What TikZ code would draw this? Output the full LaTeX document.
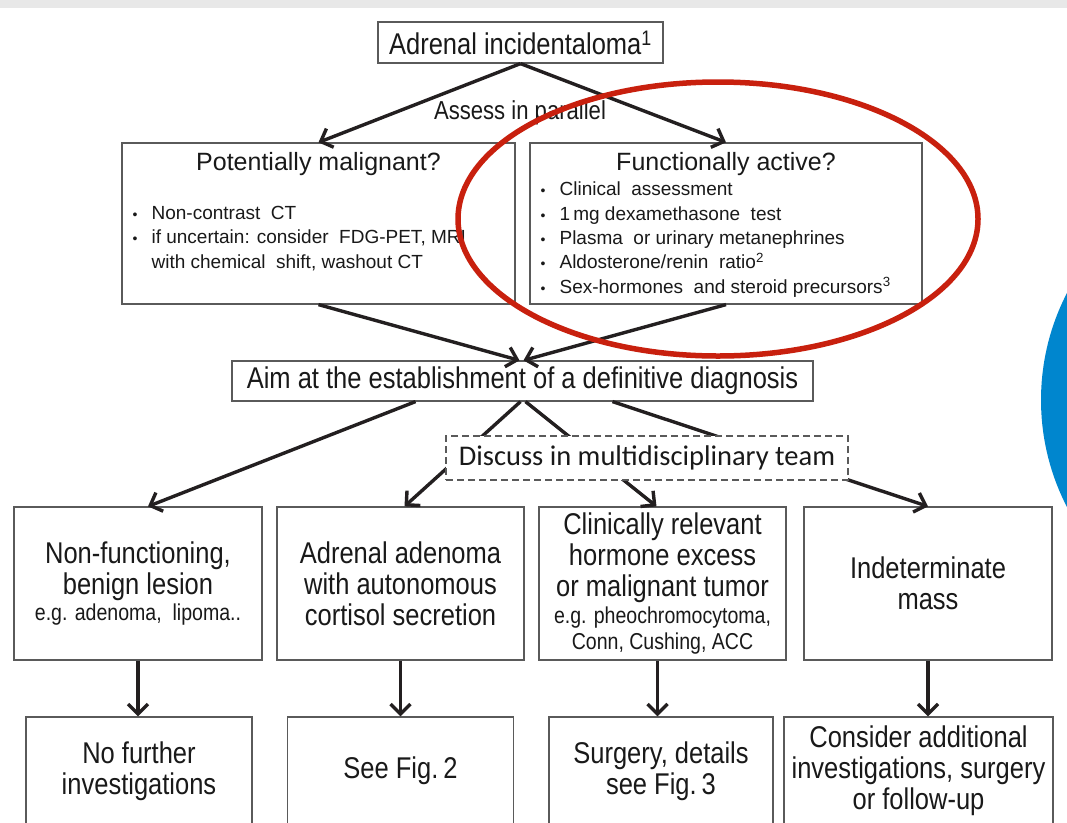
\documentclass[tikz,border=0pt]{standalone}
\usepackage{fontspec}
\setmainfont{Liberation Sans}
\newfontfamily\narrowfont[FakeStretch=0.85]{Liberation Sans}
\newfontfamily\teamfont{Carlito}
\usetikzlibrary{arrows.meta,calc}

\definecolor{boxgray}{RGB}{90,90,90}
\definecolor{inkblack}{RGB}{35,31,32}
\definecolor{textgray}{RGB}{25,25,25}
\definecolor{markred}{RGB}{200,32,14}
\definecolor{slideblue}{RGB}{0,134,206}
\definecolor{bandgray}{RGB}{232,232,232}

\newcommand\bignarrow{\narrowfont\fontsize{30}{31}\selectfont}
\newcommand\smallnarrow{\narrowfont\fontsize{23}{26}\selectfont}
\newcommand\bulletmark{\makebox[19pt][l]{\fontsize{14}{14}\selectfont\textbullet}}

\tikzset{
  box/.style={draw=boxgray, line width=1.2pt, fill=white, inner sep=0pt, align=center, text=textgray},
  midbox/.style={box, minimum height=153pt, font=\bignarrow},
  endbox/.style={box, minimum height=108pt, font=\bignarrow},
  head/.style={font=\fontsize{25}{28}\selectfont, inner sep=0pt, text=textgray},
  bullets/.style={font=\fontsize{19}{24.3}\selectfont, align=left, inner sep=0pt, anchor=west, text=textgray},
  teambox/.style={draw=boxgray, line width=1.8pt, dash pattern=on 7pt off 4pt, fill=white, inner sep=0pt,
    minimum width=402pt, minimum height=44pt, text=textgray, font=\teamfont\fontsize{28.5}{30}\selectfont},
  arr/.style={draw=inkblack, line width=3.4pt, -{Straight Barb[length=10pt,width=20pt]}}
}

\begin{document}
\begin{tikzpicture}[x=1pt,y=-1pt]
\clip (0,0) rectangle (1067,822);
\fill[white] (0,0) rectangle (1067,822);
\fill[bandgray] (0,0) rectangle (1067,8);
\fill[slideblue] (1274,400) circle (233pt);

\node[box, minimum width=285pt, minimum height=41pt, font=\bignarrow] (inc) at (520.5,42.5) {Adrenal incidentaloma\textsuperscript{1}};
\node[font=\narrowfont\fontsize{26}{28}\selectfont, text=textgray, inner sep=0pt] (assess) at (520,113) {Assess in parallel};

\node[box, minimum width=393pt, minimum height=161pt] (pm) at (318.5,223.5) {};
\node[box, minimum width=392pt, minimum height=161pt] (fa) at (726,223.5) {};
\node[head] (pmhead) at ($(pm.north)+(0,22)$) {Potentially malignant?};
\node[bullets] (pmlist) at ($(pm.west)+(11,15)$) {\bulletmark Non-contrast~ CT\\
  \bulletmark if uncertain: consider~ FDG-PET, MRI\\
  \hspace*{19pt}with chemical~ shift, washout CT};
\node[head] (fahead) at ($(fa.north)+(0,22)$) {Functionally active?};
\node[bullets] (falist) at ($(fa.west)+(11,16)$) {\bulletmark Clinical~ assessment\\
  \bulletmark 1\,mg dexamethasone~ test\\
  \bulletmark Plasma~ or urinary metanephrines\\
  \bulletmark Aldosterone/renin~ ratio\textsuperscript{2}\\
  \bulletmark Sex-hormones~ and steroid precursors\textsuperscript{3}};

\node[box, minimum width=581pt, minimum height=40pt, font=\bignarrow] (aim) at (522.5,381) {Aim at the establishment of a definitive diagnosis};

\node[midbox, minimum width=248pt] (nonfunc) at (138,583.5) {Non-functioning,\\benign lesion\\[-5pt]{\smallnarrow e.g. adenoma,~ lipoma..}};
\node[midbox, minimum width=247pt] (autocort) at (400.5,583.5) {Adrenal adenoma\\with autonomous\\cortisol secretion};
\node[midbox, minimum width=247pt] (excess) at (662.5,583.5) {Clinically relevant\\hormone excess\\or malignant tumor\\[-4pt]{\smallnarrow e.g. pheochromocytoma,}\\[-5pt]{\smallnarrow Conn, Cushing, ACC}};
\node[midbox, minimum width=248pt] (indet) at (928,583.5) {Indeterminate\\mass};

\node[endbox, minimum width=226pt] (nofurther) at (139,771) {No further\\investigations};
\node[endbox, minimum width=226pt] (seefig2) at (400.5,771) {See Fig.\,2};
\node[endbox, minimum width=224pt] (surgery) at (661,771) {Surgery, details\\see Fig.\,3};
\node[endbox, minimum width=269pt] (consider) at (918.5,771) {Consider additional\\investigations, surgery\\or follow-up};

\draw[arr] (inc.south) -- (pm.north);
\draw[arr] (inc.south) -- (fa.north);
\draw[arr] (pm.south) -- ($(aim.north)+(-3,0)$);
\draw[arr] (fa.south) -- ($(aim.north)+(1,0)$);

\draw[arr] ($(aim.south)+(-107,0)$) -- ($(nonfunc.north)+(10,0)$);
\draw[arr] ($(aim.south)+(-2,0)$) -- ($(autocort.north)+(4,0)$);
\draw[arr] ($(aim.south)+(3,0)$) -- ($(excess.north)+(-6,0)$);
\draw[arr] ($(aim.south)+(90,0)$) -- (indet.north);
\node[teambox] (team) at (647,458) {Discuss in multidisciplinary team};

\draw[arr] (nonfunc.south) -- (nonfunc.south |- nofurther.north);
\draw[arr] (autocort.south) -- (autocort.south |- seefig2.north);
\draw[arr] ($(excess.south)+(-5,0)$) -- ($(excess.south |- surgery.north)+(-5,0)$);
\draw[arr] (indet.south) -- (indet.south |- consider.north);

\draw[markred, line width=5.5pt] (718,219) ellipse [x radius=260pt, y radius=137pt];
\end{tikzpicture}
\end{document}
